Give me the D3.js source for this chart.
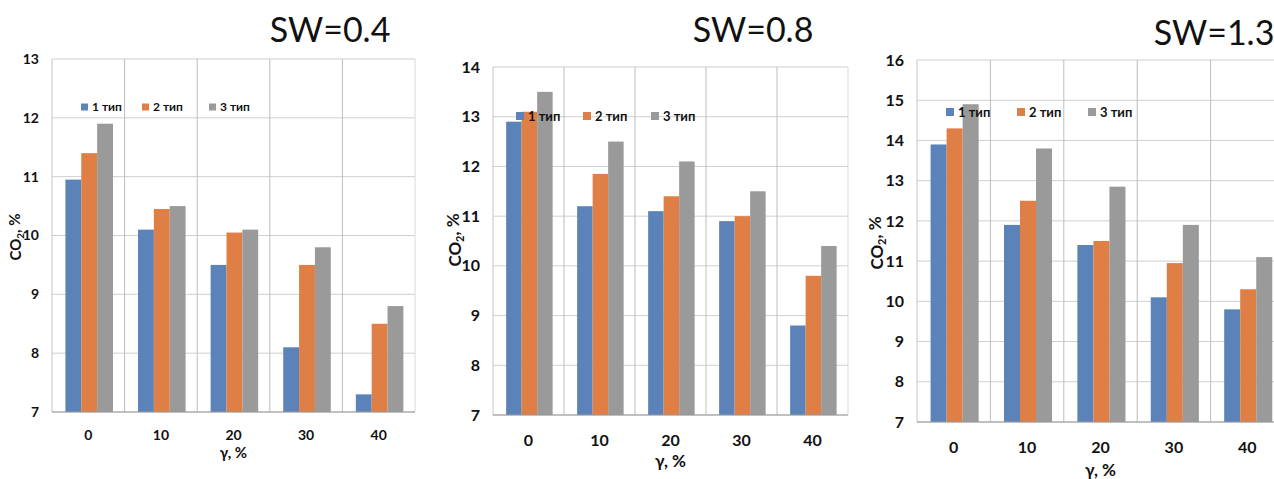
<!DOCTYPE html>
<html><head><meta charset="utf-8">
<script src="https://cdn.jsdelivr.net/npm/d3@7"></script>
<style>
body{margin:0;background:#fff;}
svg{display:block;}
text{font-family:Lato,"Liberation Sans",sans-serif;}
</style></head>
<body>
<svg id="c" width="1274" height="479"></svg>
<script>
// ---- data ----
const categories = ["0","10","20","30","40"];
const seriesNames = ["1 тип","2 тип","3 тип"];
const titles = ["SW=0.4","SW=0.8","SW=1.3"];
const yTickLabels04 = [7,8,9,10,11,12,13];
const yTickLabels08 = [7,8,9,10,11,12,13,14];
const yTickLabels13 = [7,8,9,10,11,12,13,14,15,16];
const sw04_t1 = [10.95,10.1,9.5,8.1,7.3];
const sw04_t2 = [11.4,10.45,10.05,9.5,8.5];
const sw04_t3 = [11.9,10.5,10.1,9.8,8.8];
const sw08_t1 = [12.9,11.2,11.1,10.9,8.8];
const sw08_t2 = [13.1,11.85,11.4,11.0,9.8];
const sw08_t3 = [13.5,12.5,12.1,11.5,10.4];
const sw13_t1 = [13.9,11.9,11.4,10.1,9.8];
const sw13_t2 = [14.3,12.5,11.5,10.95,10.3];
const sw13_t3 = [14.9,13.8,12.85,11.9,11.1];
const xTitle = "γ, %";

const colors = ["#5b83b9","#df7f46","#9a9a9a"];

// ---- layout (not data) ----
const panels = [
  {title:titles[0], ticks:yTickLabels04, series:[sw04_t1,sw04_t2,sw04_t3],
   L:52,R:415,T:59,B:412, tf:14, xlY:440, xtY:458, ytX:16, ytY:237, atf:15,
   legY:107, legX:[81,142,209], lf:12, ls:7,
   tX:330, tY:42, tS:34},
  {title:titles[1], ticks:yTickLabels08, series:[sw08_t1,sw08_t2,sw08_t3],
   L:493,R:848,T:67,B:415, tf:16, xlY:446, xtY:467, ytX:455, ytY:240, atf:17,
   legY:116, legX:[516,583,651], lf:13, ls:8,
   tX:753, tY:42, tS:34},
  {title:titles[2], ticks:yTickLabels13, series:[sw13_t1,sw13_t2,sw13_t3],
   L:917,R:1284,T:60,B:422, tf:16, xlY:453, xtY:476, ytX:877, ytY:243, atf:17,
   legY:112, legX:[946,1017,1088], lf:13, ls:8,
   tX:1214, tY:45, tS:34}
];

const svg = d3.select("#c");

panels.forEach(p => {
  const g = svg.append("g");
  const x0 = d3.scaleBand().domain(categories).range([p.L,p.R]).padding(0);
  const bw = x0.bandwidth();
  const x1 = d3.scaleBand().domain(seriesNames.map((s,i)=>i)).range([bw*0.185,bw*0.84]).padding(0);
  const y = d3.scaleLinear().domain([p.ticks[0],p.ticks[p.ticks.length-1]]).range([p.B,p.T]);

  g.append("g").selectAll("line").data(p.ticks).join("line")
    .attr("x1",p.L).attr("x2",p.R).attr("y1",d=>y(d)).attr("y2",d=>y(d))
    .attr("stroke","#cfcfcf").attr("stroke-width",1);
  g.append("g").selectAll("line").data(categories.slice(1)).join("line")
    .attr("x1",d=>x0(d)).attr("x2",d=>x0(d)).attr("y1",p.T).attr("y2",p.B)
    .attr("stroke","#bdbdbd").attr("stroke-width",1);
  g.append("line").attr("x1",p.L).attr("x2",p.L).attr("y1",p.T).attr("y2",p.B).attr("stroke","#c4c4c4");
  g.append("line").attr("x1",p.R).attr("x2",p.R).attr("y1",p.T).attr("y2",p.B).attr("stroke","#d8d8d8");

  categories.forEach((c,ci) => {
    p.series.forEach((s,si) => {
      g.append("rect")
        .attr("x",x0(c)+x1(si)).attr("width",x1.bandwidth())
        .attr("y",y(s[ci])).attr("height",y(p.ticks[0])-y(s[ci]))
        .attr("fill",colors[si]);
    });
  });
  g.append("line").attr("x1",p.L).attr("x2",p.R).attr("y1",p.B).attr("y2",p.B).attr("stroke","#999");

  const ya = d3.axisLeft(y).tickValues(p.ticks).tickSize(0).tickPadding(13).tickFormat(d3.format("d"));
  const yg = g.append("g").attr("transform",`translate(${p.L},0)`).call(ya);
  yg.select(".domain").remove();
  yg.selectAll("text").attr("font-size",p.tf).attr("font-weight","bold").attr("fill","#111")
    .attr("font-family","Lato,'Liberation Sans',sans-serif");

  const xa = d3.axisBottom(x0).tickSize(0).tickPadding(0);
  const xg = g.append("g").attr("transform",`translate(0,${p.xlY})`).call(xa);
  xg.select(".domain").remove();
  xg.selectAll("text").attr("dy",0).attr("font-size",p.tf).attr("font-weight","bold").attr("fill","#111")
    .attr("font-family","Lato,'Liberation Sans',sans-serif");

  g.append("text").attr("x",(p.L+p.R)/2).attr("y",p.xtY)
    .attr("text-anchor","middle").attr("font-size",p.atf).attr("font-weight","bold").attr("fill","#111")
    .text(xTitle);
  const yt = g.append("text").attr("transform",`translate(${p.ytX},${p.ytY}) rotate(-90)`)
    .attr("text-anchor","middle").attr("dy","0.35em").attr("font-size",p.atf).attr("font-weight","bold").attr("fill","#111");
  yt.append("tspan").text("CO");
  yt.append("tspan").attr("font-size",p.atf*0.65).attr("dy","0.3em").text("2");
  yt.append("tspan").attr("dy","-0.3em").text(", %");

  seriesNames.forEach((n,i) => {
    g.append("rect").attr("x",p.legX[i]).attr("y",p.legY-p.ls/2).attr("width",p.ls).attr("height",p.ls).attr("fill",colors[i]);
    g.append("text").attr("x",p.legX[i]+p.ls+4).attr("y",p.legY).attr("dy","0.35em")
      .attr("font-size",p.lf).attr("font-weight","bold").attr("fill","#111").text(n);
  });

  g.append("text").attr("x",p.tX).attr("y",p.tY).attr("text-anchor","middle")
    .attr("font-size",p.tS).attr("fill","#111").text(p.title);
});
</script>
</body></html>
